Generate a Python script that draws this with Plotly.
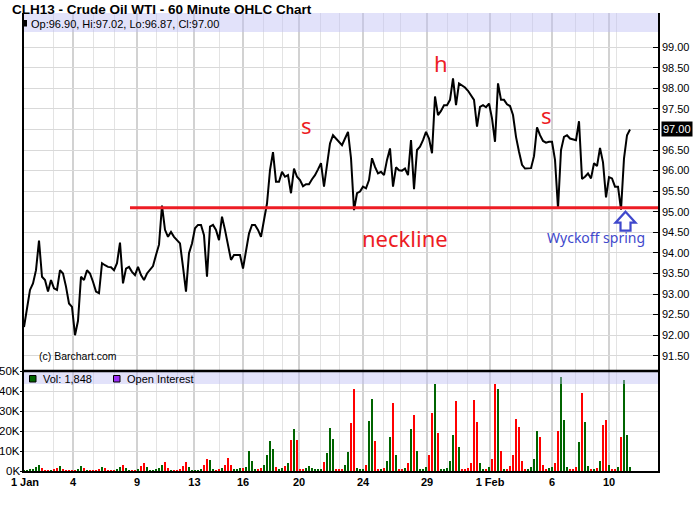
import plotly.graph_objects as go

# ---------------- data ----------------
title_text = "CLH13 - Crude Oil WTI - 60 Minute OHLC Chart"

# hourly price samples (one value per sample step, left to right)
price = [
    92.20, 92.69, 93.10, 93.26, 93.58, 94.30, 93.42, 93.34, 93.06, 93.34,
    93.14, 93.10, 93.58, 93.50, 93.18, 92.77, 92.69, 92.00, 92.35, 93.42,
    93.34, 93.58, 93.50, 93.30, 93.06, 93.02, 93.75, 93.70, 93.66, 93.65,
    93.58, 93.75, 94.25, 93.26, 93.62, 93.66, 93.54, 93.46, 93.66, 93.46,
    93.34, 93.50, 93.58, 93.68, 93.95, 94.20, 95.15, 94.56, 94.39, 94.51,
    94.39, 94.31, 94.23, 93.66, 93.06, 93.99, 94.23, 94.60, 94.68, 94.68,
    94.43, 93.42, 94.64, 94.68, 94.56, 94.31, 94.88, 94.56, 94.23, 93.83,
    93.95, 93.95, 93.95, 93.62, 94.03, 94.47, 94.68, 94.68, 94.56, 94.39,
    94.80, 95.20, 96.01, 96.45, 95.73, 95.73, 95.97, 95.85, 95.89, 95.45,
    96.05, 95.85, 95.77, 95.62, 95.67, 95.67, 95.79, 95.89, 96.03, 96.18,
    95.61, 96.09, 96.66, 96.86, 96.78, 96.70, 96.62, 96.78, 96.94, 96.30,
    95.04, 95.45, 95.49, 95.61, 95.57, 95.77, 96.30, 96.09, 95.93, 95.97,
    95.89, 96.26, 96.54, 95.61, 96.08, 96.01, 96.00, 96.05, 95.89, 96.74,
    95.55, 96.50, 96.58, 96.74, 96.94, 96.78, 96.42, 97.80, 97.35, 97.45,
    97.59, 97.59, 97.72, 98.24, 97.59, 98.12, 98.08, 98.02, 97.94, 97.84,
    97.72, 97.07, 97.55, 97.59, 97.54, 97.63, 97.27, 96.70, 98.12, 97.72,
    97.72, 97.61, 97.57, 97.35, 96.82, 96.46, 96.14, 96.05, 96.05, 96.06,
    96.35, 97.05, 96.86, 96.72, 96.68, 96.70, 96.70, 96.26, 95.08, 96.50,
    96.82, 96.86, 96.78, 96.76, 96.74, 97.20, 95.80, 95.85, 95.93, 95.81,
    96.18, 96.11, 96.55, 96.20, 95.35, 95.84, 95.81, 95.61, 95.61, 95.05,
    96.30, 96.86, 97.00,
]

# volume per sample, in thousands of contracts
volume_k = [
    0.3, 0.5, 0.8, 1.2, 2.0, 3.0, 1.5, 0.3, 0.2, 0.3,
    0.6, 1.5, 2.5, 1.2, 0.3, 0.2, 0.3, 0.5, 1.0, 2.7,
    1.5, 0.3, 0.2, 0.3, 0.5, 1.0, 2.0, 1.3, 0.3, 0.2,
    0.4, 0.8, 2.0, 3.0, 1.5, 0.4, 0.3, 0.5, 1.0, 2.5,
    4.0, 2.0, 0.5, 0.3, 0.6, 1.5, 3.0, 4.5, 1.5, 0.4,
    0.3, 0.5, 0.8, 2.5, 4.5, 2.0, 0.5, 0.3, 0.5, 1.0,
    3.0, 6.0, 5.5, 1.0, 0.5, 0.8, 1.5, 3.0, 6.5, 3.0,
    0.7, 0.8, 1.5, 1.5, 2.0, 10.0, 5.0, 0.8, 1.0, 1.5,
    3.0, 8.0, 15.0, 11.0, 2.0, 0.8, 1.5, 2.5, 4.0, 15.7,
    21.0, 15.5, 1.0, 0.8, 1.5, 2.5, 1.5, 1.0, 1.2, 1.0,
    4.5, 9.0, 21.5, 16.0, 1.0, 1.0, 1.0, 3.0, 9.5, 24.0,
    41.0, 1.5, 1.0, 1.2, 3.0, 25.0, 36.0, 15.0, 1.0, 1.2,
    1.5, 5.0, 17.0, 34.0, 8.0, 1.0, 1.0, 1.5, 4.0, 21.0,
    28.0, 10.0, 1.0, 1.0, 2.0, 8.0, 29.0, 43.5, 19.0, 1.0,
    1.0, 1.5, 5.0, 18.0, 35.0, 12.0, 1.0, 1.0, 1.5, 4.0,
    35.5, 24.7, 4.0, 0.8, 1.0, 2.0, 6.0, 43.5, 41.0, 10.0,
    1.0, 1.0, 2.5, 8.0, 26.0, 22.0, 5.0, 1.0, 1.0, 2.0,
    6.0, 20.0, 17.0, 3.0, 1.0, 1.5, 2.0, 4.0, 20.0, 47.0,
    25.5, 2.0, 1.0, 1.0, 2.0, 14.7, 39.0, 24.7, 2.5, 1.0,
    1.0, 1.5, 5.0, 23.0, 25.5, 3.0, 1.0, 1.0, 2.0, 17.0,
    45.5, 18.0, 1.8,
]

# date axis (positions in sample units)
date_labels = ["1 Jan", "4", "9", "13", "16", "20", "24", "29", "1 Feb", "6", "10"]
date_label_pos = [0.33, 16.33, 37.67, 56.83, 73.0, 91.67, 113.0, 134.33, 155.33, 176.0, 195.0]
day_grid_pos = [9.67, 23.33, 30.33, 44.33, 51.33, 65.33, 79.67, 86.0, 98.67, 105.33,
                119.67, 125.33, 141.0, 147.67, 162.0, 169.33, 183.67, 189.67, 197.33]

price_ticks = [91.5, 92.0, 92.5, 93.0, 93.5, 94.0, 94.5, 95.0, 95.5, 96.0,
               96.5, 97.0, 97.5, 98.0, 98.5, 99.0]
vol_ticks = [0, 10000, 20000, 30000, 40000, 50000]
vol_tick_labels = ["0K", "10K", "20K", "30K", "40K", "50K"]

ohlc_text = "Op:96.90, Hi:97.02, Lo:96.87, Cl:97.00"
last_close = 97.00
vol_text = "Vol: 1,848"
oi_text = "Open Interest"

neckline_level = 95.10
neckline_start = 35.33
pattern_labels = ["s", "h", "s"]
pattern_x = [94.3, 139.0, 174.0]
pattern_y = [97.12, 98.62, 97.36]
neckline_label_pos = (127.0, 94.36)
spring_label_pos = (190.7, 94.38)
spring_arrow_x = 200.5

# ---------------- figure ----------------
n = len(price)
xs = list(range(n))
vol = [v * 1000 for v in volume_k]
vol_colors = ["#006400"] + [
    "#006400" if price[i] >= price[i - 1] else "#ff0000" for i in range(1, n)
]

X_RANGE = [0, 211.33]
PRICE_RANGE = [91.13, 99.83]
W, H = 700, 512
ML, MR, MT, MB = 24, 42, 13, 41
PW = W - ML - MR
PH = H - MT - MB


def pxx(px):
    return (px - ML) / PW


def pxy(py):
    return (H - MB - py) / PH


split = pxy(371)

FONT = "Liberation Sans, Arial, sans-serif"
RED = "#ed1c24"
INDIGO = "#3f48cc"
GRID = "#d9d9d9"

fig = go.Figure()
fig.add_trace(go.Scatter(x=xs, y=price, mode="lines",
                         line=dict(color="black", width=2.0),
                         xaxis="x", yaxis="y", hoverinfo="skip"))
fig.add_trace(go.Bar(x=xs, y=vol, marker=dict(color=vol_colors, line=dict(width=0)),
                     width=0.8, xaxis="x2", yaxis="y2", hoverinfo="skip"))

common_x = dict(
    range=X_RANGE, tickmode="array", tickvals=date_label_pos,
    showgrid=True, gridcolor="#d2d2d2", gridwidth=2,
    minor=dict(tickmode="array", tickvals=day_grid_pos, showgrid=True,
               gridcolor="#e3e3e3", gridwidth=1, ticks=""),
    zeroline=False, ticks="", fixedrange=True, automargin=False,
)

fig.update_layout(
    width=W, height=H,
    margin=dict(l=ML, r=MR, t=MT, b=MB, autoexpand=False),
    paper_bgcolor="white", plot_bgcolor="white",
    showlegend=False, bargap=0,
    title=dict(text="<b>" + title_text + "</b>", x=12 / W, xanchor="left",
               y=1 - 9.5 / H, yanchor="middle", automargin=False,
               font=dict(family=FONT, size=13.5, color="black")),
    xaxis=dict(**common_x, anchor="y", showticklabels=False, showline=False),
    xaxis2=dict(**common_x, anchor="y2", matches="x", ticktext=date_labels,
                showticklabels=True, showline=True, linecolor="black", linewidth=2,
                tickfont=dict(family=FONT, size=11, color="black", weight="bold")),
    yaxis=dict(domain=[split, 1], range=PRICE_RANGE, side="right",
               tickmode="array", tickvals=price_ticks, tickformat=".2f",
               ticks="inside", ticklen=5, tickcolor="black", tickwidth=1,
               showgrid=True, gridcolor=GRID, gridwidth=1, zeroline=False,
               showline=True, linecolor="black", linewidth=1.5, mirror=True,
               automargin=False,
               tickfont=dict(family=FONT, size=11, color="black"), fixedrange=True),
    yaxis2=dict(domain=[0, split], range=[0, 50000], side="left",
                tickmode="array", tickvals=vol_ticks, showticklabels=False,
                ticks="outside", ticklen=2, tickcolor="black",
                showgrid=True, gridcolor=GRID, gridwidth=1, zeroline=False,
                showline=True, linecolor="black", linewidth=1.5, mirror=True,
                automargin=False, fixedrange=True),
)

shapes = []
# lavender legend bands
shapes.append(dict(type="rect", xref="x domain", yref="y domain", x0=0, x1=1,
                   y0=1 - 19 / 358, y1=1, fillcolor="rgba(190,190,245,0.45)",
                   line=dict(width=0), layer="above"))
shapes.append(dict(type="rect", xref="x2 domain", yref="y2 domain", x0=0, x1=1,
                   y0=1 - 13 / 100, y1=0.99, fillcolor="rgba(190,190,245,0.45)",
                   line=dict(width=0), layer="above"))
# separator between panels
shapes.append(dict(type="line", xref="paper", yref="paper", x0=0, x1=1,
                   y0=split, y1=split, line=dict(color="black", width=2.5)))
# legend squares
shapes.append(dict(type="rect", xref="paper", yref="paper", x0=pxx(22.5), x1=pxx(27),
                   y0=pxy(26.5), y1=pxy(20), fillcolor="black", line=dict(width=0)))
shapes.append(dict(type="rect", xref="paper", yref="paper", x0=pxx(29.5), x1=pxx(36),
                   y0=pxy(382), y1=pxy(375.5), fillcolor="#006400",
                   line=dict(color="black", width=1)))
shapes.append(dict(type="rect", xref="paper", yref="paper", x0=pxx(113.5), x1=pxx(120),
                   y0=pxy(382), y1=pxy(375.5), fillcolor="#9a2cf5",
                   line=dict(color="black", width=1)))
# neckline
shapes.append(dict(type="line", xref="x", yref="y", x0=neckline_start, x1=X_RANGE[1],
                   y0=neckline_level, y1=neckline_level,
                   line=dict(color=RED, width=3)))
# hollow up arrow (Wyckoff spring)
shapes.append(dict(type="path", xref="x", yref="y", xsizemode="pixel", ysizemode="pixel",
                   xanchor=spring_arrow_x, yanchor=neckline_level,
                   path="M 0,-4 L 10,-15 L 5,-15 L 5,-23 L -5,-23 L -5,-15 L -10,-15 Z",
                   line=dict(color=INDIGO, width=2.2), fillcolor="white"))
fig.update_layout(shapes=shapes)

ann = []
# volume axis labels (left side)
for v, t in zip(vol_ticks, vol_tick_labels):
    ann.append(dict(xref="paper", yref="y2", x=pxx(21.5), y=v, xanchor="right",
                    yanchor="middle", text=t, showarrow=False,
                    font=dict(family=FONT, size=11.5, color="black")))
ann.append(dict(xref="paper", yref="paper", x=pxx(28.5), y=pxy(23.5), xanchor="left",
                yanchor="middle", text=ohlc_text, showarrow=False,
                font=dict(family=FONT, size=11, color="black")))
ann.append(dict(xref="paper", yref="paper", x=pxx(40.5), y=pxy(378.5), xanchor="left",
                yanchor="middle", text=vol_text, showarrow=False,
                font=dict(family=FONT, size=11, color="black")))
ann.append(dict(xref="paper", yref="paper", x=pxx(125), y=pxy(378.5), xanchor="left",
                yanchor="middle", text=oi_text, showarrow=False,
                font=dict(family=FONT, size=11, color="black")))
ann.append(dict(xref="paper", yref="y", x=pxx(36.5), y=91.5, xanchor="left",
                yanchor="middle", text="(c) Barchart.com", showarrow=False,
                font=dict(family=FONT, size=10.5, color="black")))
ann.append(dict(xref="paper", yref="y", x=pxx(661), y=last_close, xanchor="left",
                yanchor="middle", text=f"{last_close:.2f}", showarrow=False,
                bgcolor="black", borderpad=1,
                font=dict(family=FONT, size=11, color="white")))
for t, x, y in zip(pattern_labels, pattern_x, pattern_y):
    ann.append(dict(xref="x", yref="y", x=x, y=y, text=t, showarrow=False,
                    font=dict(family="Noto Sans", size=22, color=RED)))
ann.append(dict(xref="x", yref="y", x=neckline_label_pos[0], y=neckline_label_pos[1],
                text="neckline", showarrow=False,
                font=dict(family="Noto Sans", size=22, color=RED)))
ann.append(dict(xref="x", yref="y", x=spring_label_pos[0], y=spring_label_pos[1],
                text="Wyckoff spring", showarrow=False,
                font=dict(family="Noto Sans", size=14, color=INDIGO)))
fig.update_layout(annotations=ann)

fig.write_html("out.html", config={"displayModeBar": False},
               post_script="document.body.style.margin='0';document.body.style.padding='0';")
